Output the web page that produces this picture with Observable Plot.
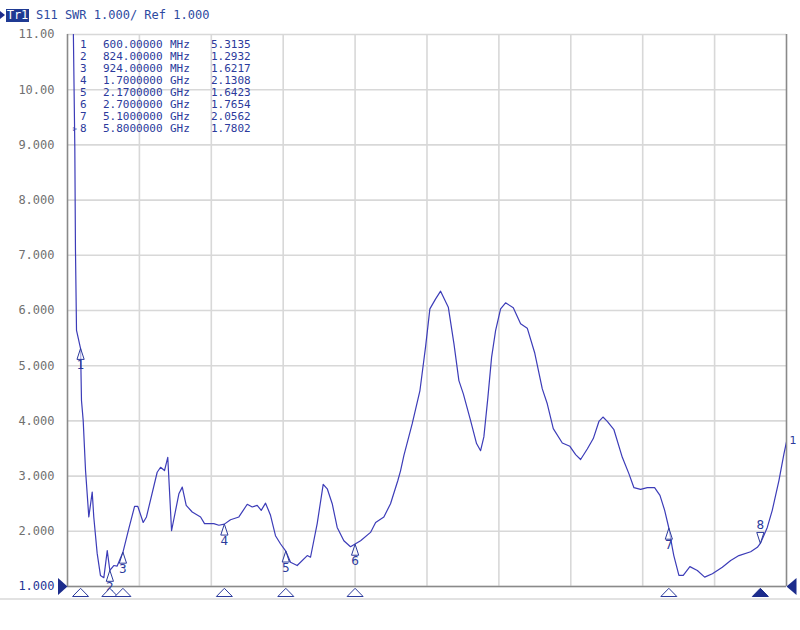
<!DOCTYPE html>
<html>
<head>
<meta charset="utf-8">
<script src="https://cdn.jsdelivr.net/npm/d3@7"></script>
<script src="https://cdn.jsdelivr.net/npm/@observablehq/plot@0.6"></script>
<style>
  body { margin: 0; background: white; }
  #wrap { position: relative; width: 800px; height: 630px; overflow: hidden; background: white; }
  #wrap svg { position: absolute; left: 0; top: 0; }
  .mono { font-family: "DejaVu Sans Mono", monospace; }
  .abs { position: absolute; white-space: pre; }
</style>
</head>
<body>
<div id="wrap"></div>
<script>
// ---- Data ----
const freqGHz = [0.545,0.556,0.561,0.569,0.600,0.607,0.620,0.638,0.663,0.689,0.701,0.727,0.752,0.778,0.804,0.824,0.854,0.880,0.924,0.969,1.013,1.038,1.079,1.104,1.186,1.212,1.242,1.267,1.296,1.352,1.378,1.408,1.454,1.518,1.548,1.619,1.658,1.700,1.747,1.811,1.875,1.913,1.951,1.982,2.015,2.053,2.091,2.130,2.170,2.206,2.257,2.334,2.359,2.410,2.456,2.487,2.525,2.563,2.614,2.665,2.700,2.742,2.818,2.857,2.920,2.971,3.027,3.048,3.073,3.137,3.196,3.239,3.272,3.316,3.354,3.413,3.456,3.494,3.528,3.583,3.629,3.660,3.685,3.716,3.744,3.775,3.813,3.851,3.910,3.966,4.017,4.073,4.132,4.170,4.216,4.285,4.343,4.387,4.425,4.476,4.522,4.565,4.596,4.629,4.680,4.744,4.795,4.833,4.884,4.935,4.991,5.032,5.068,5.100,5.126,5.138,5.177,5.210,5.261,5.318,5.374,5.433,5.509,5.573,5.636,5.726,5.777,5.800,5.853,5.891,5.942,5.980,6.000];
const swr = [11.0,8.95,7.09,5.64,5.31,4.37,4.01,3.10,2.26,2.71,2.26,1.60,1.20,1.16,1.65,1.29,1.38,1.37,1.62,2.05,2.45,2.45,2.16,2.26,3.07,3.16,3.10,3.34,2.01,2.68,2.80,2.47,2.35,2.26,2.14,2.14,2.11,2.13,2.21,2.26,2.49,2.44,2.47,2.38,2.51,2.29,1.92,1.77,1.64,1.44,1.38,1.56,1.53,2.14,2.85,2.77,2.50,2.07,1.83,1.72,1.77,1.83,1.98,2.16,2.26,2.50,2.92,3.10,3.37,3.95,4.55,5.34,6.03,6.21,6.35,6.06,5.40,4.73,4.49,4.01,3.59,3.46,3.71,4.43,5.15,5.64,6.03,6.14,6.05,5.76,5.68,5.24,4.58,4.31,3.86,3.60,3.54,3.39,3.30,3.49,3.68,3.99,4.07,3.99,3.84,3.34,3.04,2.79,2.76,2.79,2.79,2.65,2.38,2.06,1.71,1.56,1.20,1.20,1.36,1.29,1.17,1.23,1.35,1.47,1.56,1.63,1.71,1.78,2.07,2.38,2.92,3.40,3.62];

const markerNum   = ["1","2","3","4","5","6","7","8"];
const markerFreq  = [0.6, 0.824, 0.924, 1.7, 2.17, 2.7, 5.1, 5.8];
const markerSwr   = [5.3135, 1.2932, 1.6217, 2.1308, 1.6423, 1.7654, 2.0562, 1.7802];
const markerFreqText = ["600.00000","824.00000","924.00000","1.7000000","2.1700000","2.7000000","5.1000000","5.8000000"];
const markerUnit  = ["MHz","MHz","MHz","GHz","GHz","GHz","GHz","GHz"];
const markerValText = ["5.3135","1.2932","1.6217","2.1308","1.6423","1.7654","2.0562","1.7802"];

const yTicks = [1,2,3,4,5,6,7,8,9,10,11];
const yTickLabels = ["1.000","2.000","3.000","4.000","5.000","6.000","7.000","8.000","9.000","10.00","11.00"];
const xGrid = [1.05,1.6,2.15,2.7,3.25,3.8,4.35,4.9,5.45];

const headerTrace = "Tr1";
const headerText = "S11 SWR 1.000/ Ref 1.000";
const traceLabel = "1";

// ---- Build ----
const trace = freqGHz.map((f, i) => ({f, v: swr[i]}));
const markers = markerNum.map((n, i) => ({n, f: markerFreq[i], v: markerSwr[i]}));
const yt = yTicks.map((t, i) => ({t, label: yTickLabels[i], color: t === 1 ? "#1f3596" : "#707070"}));

const traceColor = "#3c3cb8";
const navy = "#1c2c8c";
const textBlue = "#2b3a9c";

const triUp = {draw(c) { c.moveTo(0, 0); c.lineTo(3.6, 11); c.lineTo(-3.6, 11); c.closePath(); }};
const triDown = {draw(c) { c.moveTo(0, 0); c.lineTo(3.6, -11); c.lineTo(-3.6, -11); c.closePath(); }};
const triFlat = {draw(c) { c.moveTo(0, -4.2); c.lineTo(8, 4); c.lineTo(-8, 4); c.closePath(); }};
const triRight = {draw(c) { c.moveTo(0, 0); c.lineTo(-9.5, -8.5); c.lineTo(-9.5, 8.5); c.closePath(); }};
const triLeft = {draw(c) { c.moveTo(0, 0); c.lineTo(10, -8.5); c.lineTo(10, 8.5); c.closePath(); }};

const chart = Plot.plot({
  width: 800,
  height: 630,
  marginTop: 34,
  marginBottom: 44,
  marginLeft: 67,
  marginRight: 14,
  x: {domain: [0.5, 6.0], axis: null},
  y: {domain: [1, 11], axis: null},
  style: {background: "white", overflow: "visible", fontFamily: "DejaVu Sans Mono"},
  marks: [
    Plot.ruleY(yTicks, {stroke: "#d8d8d8", strokeWidth: 1.6}),
    Plot.ruleX(xGrid, {stroke: "#d8d8d8", strokeWidth: 1.6}),
    Plot.ruleX([0.5, 6.0], {stroke: "#8a8a8a", strokeWidth: 1.6}),
    Plot.ruleY([1], {stroke: "#8a8a8a", strokeWidth: 1.6}),
    Plot.text(yt, {y: "t", frameAnchor: "left", dx: -13, textAnchor: "end", text: "label", fill: "color", fontSize: 12, fontFamily: "DejaVu Sans Mono"}),
    Plot.line(trace, {x: "f", y: "v", stroke: traceColor, strokeWidth: 1.2, clip: true}),
    // on-trace markers
    Plot.dot(markers.slice(0, 7), {x: "f", y: "v", r: 5, symbol: triUp, fill: "white", fillOpacity: 0.6, stroke: textBlue, strokeWidth: 1}),
    Plot.text(markers.slice(0, 7), {x: "f", y: "v", text: "n", dy: 17, fill: textBlue, fontSize: 12, fontFamily: "DejaVu Sans"}),
    Plot.dot(markers.slice(7), {x: "f", y: "v", r: 5, symbol: triDown, fill: "white", fillOpacity: 0.6, stroke: textBlue, strokeWidth: 1}),
    Plot.text(markers.slice(7), {x: "f", y: "v", text: "n", dy: -18, fill: textBlue, fontSize: 12, fontFamily: "DejaVu Sans"}),
    // bottom stimulus markers
    Plot.dot(markers.slice(0, 7), {x: "f", frameAnchor: "bottom", dy: 6, r: 5, symbol: triFlat, fill: "white", stroke: textBlue, strokeWidth: 1}),
    Plot.dot(markers.slice(7), {x: "f", frameAnchor: "bottom", dy: 6, r: 5, symbol: triFlat, fill: navy, stroke: navy, strokeWidth: 1}),
    // reference position markers
    Plot.dot([1], {y: d => d, frameAnchor: "left", r: 5, symbol: triRight, fill: navy}),
    Plot.dot([1], {y: d => d, frameAnchor: "right", r: 5, symbol: triLeft, fill: navy}),
    // trace label at end
    Plot.text([trace[trace.length - 1]], {x: "f", y: "v", text: () => traceLabel, dx: 3, dy: -1, textAnchor: "start", fill: textBlue, fontSize: 11, fontFamily: "DejaVu Sans"})
  ]
});

const wrap = document.getElementById("wrap");
wrap.appendChild(chart);

// header
const tri = document.createElement("div");
tri.style.cssText = "position:absolute;left:0;top:11px;width:0;height:0;border-top:4px solid transparent;border-bottom:4px solid transparent;border-left:5px solid " + navy + ";";
wrap.appendChild(tri);
const tr = document.createElement("div");
tr.className = "abs mono";
tr.textContent = headerTrace;
tr.style.cssText += "left:6px;top:9px;width:23px;height:13px;line-height:13px;text-align:center;background:#1f3a93;color:white;font-size:12px;";
wrap.appendChild(tr);
const ht = document.createElement("div");
ht.className = "abs mono";
ht.textContent = headerText;
ht.style.cssText += "left:36px;top:8px;line-height:15px;color:#2d4aa0;font-size:12px;";
wrap.appendChild(ht);

// marker table
const cols = [80, 103, 170, 211];
markerNum.forEach((n, i) => {
  const top = 39 + i * 11.95;
  const vals = [n, markerFreqText[i], markerUnit[i], markerValText[i]];
  vals.forEach((s, j) => {
    const d = document.createElement("div");
    d.className = "abs mono";
    d.textContent = s;
    d.style.cssText += `left:${cols[j]}px;top:${top}px;line-height:12px;font-size:11px;color:${textBlue};`;
    wrap.appendChild(d);
  });
  if (i === 7) {
    const a = document.createElement("div");
    a.className = "abs";
    a.textContent = "▹";
    a.style.cssText += `left:73px;top:${top}px;line-height:12px;font-size:8px;color:${textBlue};font-family:'DejaVu Sans';`;
    wrap.appendChild(a);
  }
});

// bottom separator
const sep = document.createElement("div");
sep.style.cssText = "position:absolute;left:0;top:598px;width:800px;height:2px;background:#e2e2e2;";
wrap.appendChild(sep);
</script>
</body>
</html>
